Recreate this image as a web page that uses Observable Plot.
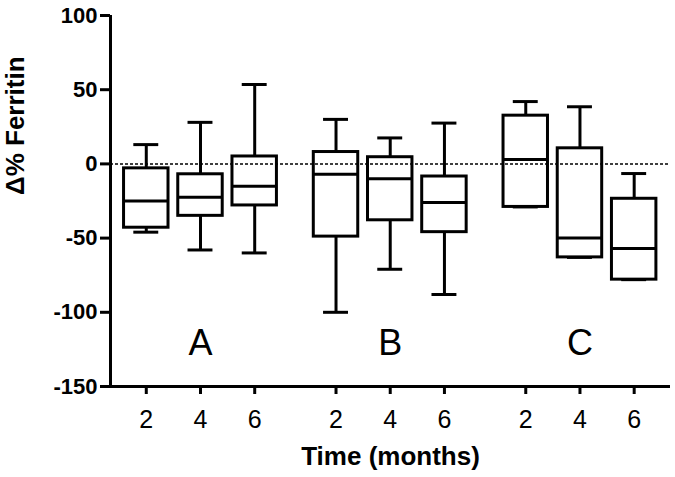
<!DOCTYPE html>
<html>
<head>
<meta charset="utf-8">
<script src="https://cdn.jsdelivr.net/npm/d3@7"></script>
<script src="https://cdn.jsdelivr.net/npm/@observablehq/plot@0.6"></script>
<style>
  html, body { margin: 0; padding: 0; background: white; }
</style>
</head>
<body>
<div id="chart"></div>
<script>
// Data
const groups = ["A", "B", "C"];
const months = ["2", "4", "6"];
const whiskerMin = [-46, -58, -60, -100, -71, -88, -29, -63, -78];
const q1 =         [-43, -35, -28, -49, -38, -46, -29, -63, -78];
const median =     [-25, -22.5, -15, -7, -10, -26, 3, -50, -57];
const q3 =         [-3, -7, 5, 8, 4.5, -8.5, 32.5, 10.5, -23.5];
const whiskerMax = [13, 28, 53.5, 30, 17.5, 27.5, 42, 38.5, -6.5];
const yTicks = [-150, -100, -50, 0, 50, 100];

// layout: positions of boxes along a linear x scale (groups separated by a gap)
const pos = (gi, mi) => 1 + gi * 3.5 + mi;
const data = [];
groups.forEach((g, gi) => months.forEach((m, mi) => {
  const i = gi * 3 + mi;
  data.push({pos: pos(gi, mi), label: m, group: g,
    lo: whiskerMin[i], q1: q1[i], med: median[i], q3: q3[i], hi: whiskerMax[i]});
}));
const labelByPos = new Map(data.map(d => [d.pos, d.label]));
const xDomain = [0.34, 10.67];
const yDomain = [-150, 100];
const W = 675, H = 477, mL = 110, mR = 5, mT = 15, mB = 91;
const xPerPx = (xDomain[1] - xDomain[0]) / (W - mL - mR);
const yPerPx = (yDomain[1] - yDomain[0]) / (H - mT - mB);
const boxHalf = 0.41, capHalf = 0.23;
const font = "'Liberation Sans', Arial, Helvetica, sans-serif";

const chart = Plot.plot({
  width: W,
  height: H,
  marginLeft: mL,
  marginRight: mR,
  marginTop: mT,
  marginBottom: mB,
  x: {type: "linear", domain: xDomain, axis: null},
  y: {domain: yDomain, axis: null},
  style: {fontFamily: font, background: "white", color: "black"},
  marks: [
    Plot.ruleX(data, {x: "pos", y1: "lo", y2: "q1", stroke: "black", strokeWidth: 3}),
    Plot.ruleX(data, {x: "pos", y1: "q3", y2: "hi", stroke: "black", strokeWidth: 3}),
    Plot.ruleY(data, {y: "lo", x1: d => d.pos - capHalf, x2: d => d.pos + capHalf, stroke: "black", strokeWidth: 3}),
    Plot.ruleY(data, {y: "hi", x1: d => d.pos - capHalf, x2: d => d.pos + capHalf, stroke: "black", strokeWidth: 3}),
    Plot.rect(data, {x1: d => d.pos - boxHalf, x2: d => d.pos + boxHalf, y1: "q1", y2: "q3",
      fill: "white", stroke: "black", strokeWidth: 3}),
    Plot.ruleY(data, {y: "med", x1: d => d.pos - boxHalf, x2: d => d.pos + boxHalf, stroke: "black", strokeWidth: 3}),
    Plot.ruleY([0], {stroke: "black", strokeWidth: 1.5, strokeDasharray: "3,2"}),
    // thick tick marks
    Plot.ruleY(yTicks, {y: d => d, x1: xDomain[0] - 10 * xPerPx, x2: xDomain[0], stroke: "black", strokeWidth: 3}),
    Plot.ruleX(data, {x: "pos", y1: yDomain[0] - 8 * yPerPx, y2: yDomain[0], stroke: "black", strokeWidth: 3}),
    Plot.axisY({ticks: yTicks, tickSize: 0, tickPadding: 13, fontSize: 22, fontWeight: "bold",
      tickFormat: d => String(d), label: null}),
    Plot.axisX({ticks: data.map(d => d.pos), tickSize: 0, tickPadding: 24, fontSize: 25,
      tickFormat: d => labelByPos.get(d), label: null}),
    Plot.ruleX([xDomain[0]], {stroke: "black", strokeWidth: 3}),
    Plot.ruleY([yDomain[0]], {stroke: "black", strokeWidth: 3}),
    Plot.text(groups, {x: (d, i) => pos(i, 1), y: -121, text: d => d, fontSize: 36, fill: "black"}),
    Plot.text(["Time (months)"], {frameAnchor: "bottom", dy: 78, text: d => d, fontSize: 26,
      fontWeight: "bold", fill: "black"}),
    Plot.text(["\u0394% Ferritin"], {frameAnchor: "left", dx: -95, dy: -6, rotate: -90, text: d => d,
      fontSize: 26, fontWeight: "bold", fill: "black"})
  ]
});
document.getElementById("chart").appendChild(chart);
</script>
</body>
</html>
